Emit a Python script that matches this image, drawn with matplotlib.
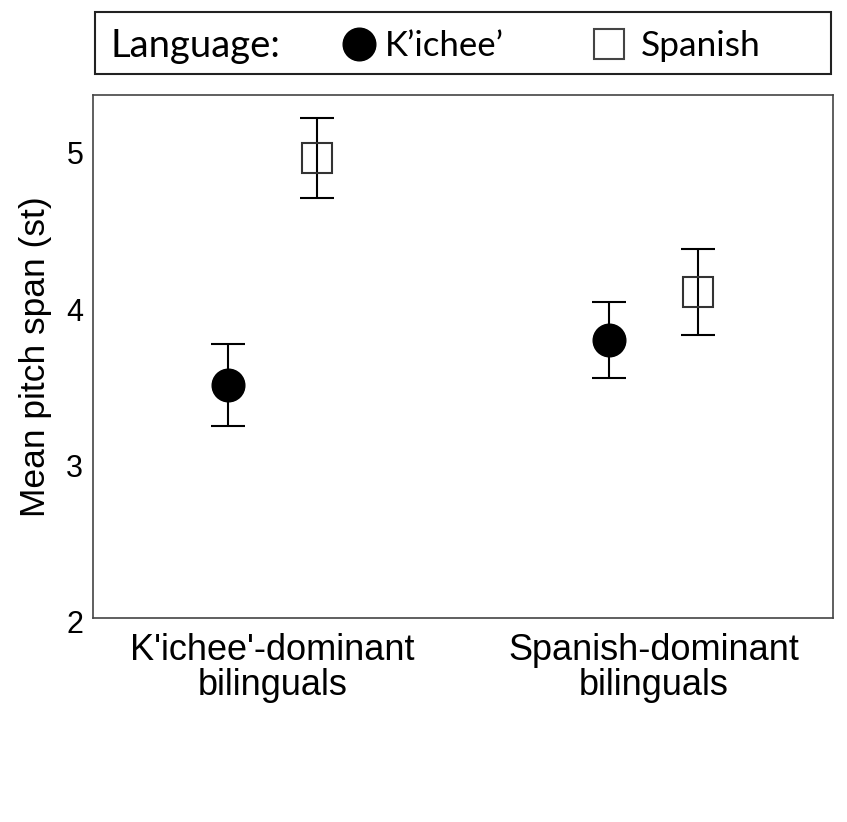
import numpy as np
import matplotlib
matplotlib.use('Agg')
from matplotlib import pyplot as plt
from matplotlib.lines import Line2D
from matplotlib.patches import Rectangle
from matplotlib.transforms import ScaledTranslation

groups = ["K'ichee'-dominant\nbilinguals", "Spanish-dominant\nbilinguals"]
kiche_mean = [3.49, 3.775]
kiche_err = [0.263, 0.243]
spanish_mean = [4.94, 4.085]
spanish_err = [0.255, 0.275]

plt.rcParams['font.family'] = ['Liberation Sans', 'DejaVu Sans']

fig = plt.figure(figsize=(8.47, 8.22), dpi=100)
ax = fig.add_axes([93/847, 1 - 617.5/822, 740/847, 522.5/822])

x = np.arange(len(groups))
dodge = 0.117

ax.errorbar(x - dodge, kiche_mean, yerr=kiche_err, fmt='o', color='black',
            ms=23.5, mfc='black', mec='black', ecolor='black', elinewidth=1.5,
            capsize=12.5, capthick=1.5, zorder=3)
ax.errorbar(x + dodge, spanish_mean, yerr=spanish_err, fmt='none',
            ecolor='black', elinewidth=1.5, capsize=12.5, capthick=1.5, zorder=2)
ax.plot(x + dodge, spanish_mean, 's', ms=22, mfc='none', mec='#333333',
        mew=1.5, zorder=3)

ax.set_xlim(-0.47, 1.47)
ax.set_ylim(2, 5.343)
ax.set_yticks([2, 3, 4, 5])
ax.set_xticks(x)
ax.set_xticklabels(groups, fontsize=26, linespacing=1.0)
ax.tick_params(axis='y', labelsize=22, length=0, pad=7)
ax.tick_params(axis='x', length=0, pad=11)
# tick numbers sit a little below their gridline in the original
shift = ScaledTranslation(0, -3/72, fig.dpi_scale_trans)
for lab in ax.get_yticklabels():
    lab.set_transform(lab.get_transform() + shift)
ax.set_ylabel('Mean pitch span (st)', fontsize=25.5, labelpad=10)
for s in ax.spines.values():
    s.set_color('#444444')
    s.set_linewidth(1.2)

# legend strip on top
legy = 1 - 46.5/822
fig.patches.append(Rectangle((95/847, 1 - 74/822), 736/847, 62/822,
                             transform=fig.transFigure, fill=False,
                             edgecolor='#222222', linewidth=1.5))
fig.text(110/847, legy, 'Language:', fontsize=27.5, family='Lato',
         va='center', ha='left')
h_kiche = Line2D([], [], marker='o', ls='none', ms=23.5, color='black')
h_span = Line2D([], [], marker='s', ls='none', ms=22, mfc='none',
                mec='#444444', mew=1.5)
fig.legend([h_kiche], ["K\u2019ichee\u2019"], frameon=False,
           loc='center left', bbox_to_anchor=(343/847, legy),
           prop={'family': 'Lato', 'size': 25}, handletextpad=0.25,
           handlelength=0.95, borderpad=0, borderaxespad=0)
fig.legend([h_span], ['Spanish'], frameon=False,
           loc='center left', bbox_to_anchor=(592/847, legy),
           prop={'family': 'Lato', 'size': 25.5}, handletextpad=0.42,
           handlelength=0.95, borderpad=0, borderaxespad=0)

plt.savefig('out.png', dpi=100)
